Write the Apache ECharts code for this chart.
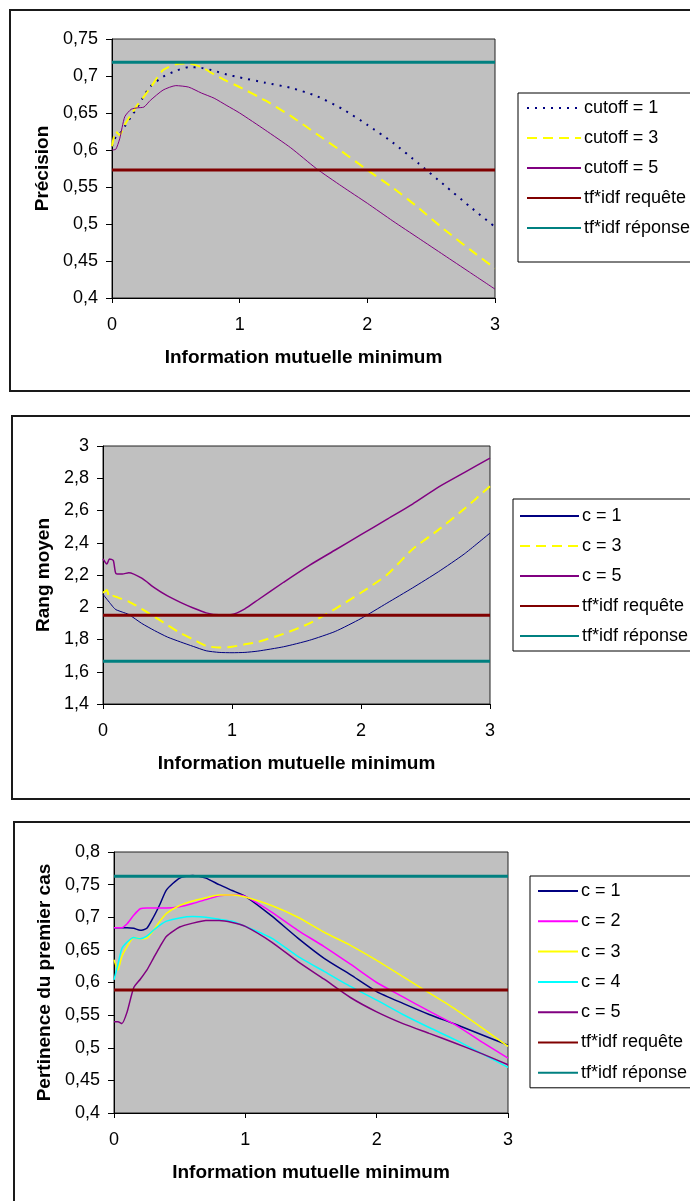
<!DOCTYPE html>
<html>
<head>
<meta charset="utf-8">
<script src="https://cdn.jsdelivr.net/npm/echarts@6/dist/echarts.min.js"></script>
<style>
  html, body { margin: 0; padding: 0; background: #fff; width: 690px; height: 1201px; overflow: hidden; position: relative; }
  .box { position: absolute; border: 2px solid #1a1a1a; box-sizing: border-box; width: 740px; }
  .chart { position: absolute; left: 0; width: 690px; }
</style>
</head>
<body>
<div class="box" style="left:9px;top:9px;height:383px"></div>
<div class="box" style="left:11px;top:415px;height:385px"></div>
<div class="box" style="left:13px;top:821px;height:500px"></div>
<div id="c1" class="chart" style="top:0;height:400px"></div>
<div id="c2" class="chart" style="top:400px;height:400px"></div>
<div id="c3" class="chart" style="top:800px;height:401px"></div>
<script>
// --- chart 1 : Précision
const x1 = [0, 0.03, 0.06, 0.1, 0.15, 0.2, 0.25, 0.3, 0.4, 0.5, 0.6, 0.7, 0.8, 0.9, 1.0, 1.2, 1.4, 1.6, 1.8, 2.0, 2.2, 2.4, 2.6, 2.8, 3.0]
const cutoff1 = [0.605, 0.618, 0.622, 0.632, 0.645, 0.658, 0.673, 0.686, 0.699, 0.707, 0.712, 0.711, 0.707, 0.702, 0.698, 0.691, 0.684, 0.673, 0.656, 0.634, 0.610, 0.582, 0.553, 0.524, 0.496]
const cutoff3 = [0.605, 0.625, 0.620, 0.634, 0.648, 0.661, 0.672, 0.684, 0.708, 0.716, 0.717, 0.712, 0.702, 0.693, 0.685, 0.667, 0.646, 0.622, 0.598, 0.573, 0.549, 0.522, 0.493, 0.466, 0.440]
const cutoff5 = [0.600, 0.601, 0.615, 0.645, 0.655, 0.657, 0.658, 0.667, 0.681, 0.687, 0.685, 0.677, 0.670, 0.660, 0.650, 0.627, 0.603, 0.575, 0.551, 0.528, 0.504, 0.481, 0.458, 0.435, 0.412]
const requete1 = 0.573
const reponse1 = 0.7185

// --- chart 2 : Rang moyen
const x2 = [0, 0.03, 0.05, 0.08, 0.1, 0.15, 0.2, 0.3, 0.4, 0.5, 0.6, 0.7, 0.8, 0.9, 1.0, 1.1, 1.2, 1.4, 1.6, 1.8, 2.0, 2.2, 2.4, 2.6, 2.8, 3.0]
const rangC1 = [2.08, 2.05, 2.03, 2.00, 1.985, 1.97, 1.955, 1.90, 1.855, 1.815, 1.785, 1.757, 1.73, 1.72, 1.718, 1.72, 1.728, 1.755, 1.795, 1.85, 1.93, 2.025, 2.12, 2.22, 2.33, 2.46]
const rangC3 = [2.09, 2.107, 2.06, 2.07, 2.065, 2.05, 2.035, 1.99, 1.94, 1.89, 1.84, 1.80, 1.76, 1.75, 1.755, 1.77, 1.785, 1.835, 1.90, 1.99, 2.09, 2.20, 2.36, 2.48, 2.61, 2.75]
const rangC5 = [2.30, 2.268, 2.30, 2.29, 2.21, 2.206, 2.214, 2.18, 2.12, 2.07, 2.03, 1.995, 1.965, 1.953, 1.955, 1.99, 2.045, 2.155, 2.26, 2.355, 2.45, 2.545, 2.64, 2.745, 2.835, 2.925]
const requete2 = 1.95
const reponse2 = 1.665

// --- chart 3 : Pertinence du premier cas
const x3 = [0, 0.03, 0.06, 0.1, 0.15, 0.2, 0.25, 0.3, 0.35, 0.4, 0.5, 0.6, 0.7, 0.8, 0.9, 1.0, 1.2, 1.4, 1.6, 1.8, 2.0, 2.2, 2.4, 2.6, 2.8, 3.0]
const pertC1 = [0.684, 0.684, 0.684, 0.684, 0.683, 0.680, 0.683, 0.700, 0.720, 0.742, 0.760, 0.764, 0.760, 0.750, 0.741, 0.732, 0.702, 0.668, 0.637, 0.612, 0.586, 0.568, 0.551, 0.536, 0.520, 0.504]
const pertC2 = [0.684, 0.684, 0.684, 0.690, 0.703, 0.713, 0.714, 0.714, 0.714, 0.714, 0.716, 0.721, 0.727, 0.733, 0.734, 0.732, 0.708, 0.680, 0.655, 0.628, 0.600, 0.578, 0.556, 0.535, 0.509, 0.484]
const pertC3 = [0.635, 0.619, 0.640, 0.655, 0.669, 0.667, 0.668, 0.680, 0.694, 0.706, 0.718, 0.725, 0.730, 0.734, 0.734, 0.731, 0.718, 0.700, 0.677, 0.657, 0.634, 0.609, 0.584, 0.559, 0.531, 0.502]
const pertC4 = [0.604, 0.628, 0.652, 0.662, 0.669, 0.667, 0.671, 0.680, 0.688, 0.694, 0.699, 0.701, 0.700, 0.697, 0.694, 0.686, 0.668, 0.640, 0.617, 0.594, 0.573, 0.551, 0.531, 0.512, 0.491, 0.470]
const pertC5 = [0.540, 0.540, 0.537, 0.555, 0.592, 0.605, 0.619, 0.637, 0.655, 0.671, 0.685, 0.691, 0.695, 0.695, 0.692, 0.686, 0.662, 0.632, 0.605, 0.577, 0.555, 0.537, 0.522, 0.507, 0.491, 0.474]
const requete3 = 0.5885
const reponse3 = 0.763

const xTicks = [0, 1, 2, 3]
const FONT = '"Liberation Sans", Arial, sans-serif'

const zip = (xs, ys) => xs.map((x, i) => [x, ys[i]])
const flat = v => [[xTicks[0], v], [xTicks[xTicks.length - 1], v]]
const comma = v => String(Number(v.toFixed(2))).replace('.', ',')

function line(name, data, color, width, type) {
    return {
        name,
        type: 'line',
        data,
        symbol: 'none',
        symbolSize: 0,
        smooth: 0.2,
        lineStyle: { color, width, type: type || 'solid' },
        itemStyle: { color },
        z: 2
    }
}

function buildOption(c) {
    return {
        animation: false,
        textStyle: { fontFamily: FONT },
        grid: {
            left: c.grid[0], top: c.grid[1], width: c.grid[2], height: c.grid[3],
            show: true,
            backgroundColor: '#C0C0C0',
            borderColor: '#222',
            borderWidth: 1
        },
        legend: {
            orient: 'vertical',
            left: c.legend.left,
            top: c.legend.top,
            padding: c.legend.padding,
            itemWidth: c.legend.itemWidth,
            itemHeight: 18,
            itemGap: c.legend.itemGap,
            borderColor: '#000',
            borderWidth: 1,
            backgroundColor: '#fff',
            selectedMode: false,
            // hide the marker dot, keep only the line sample
            itemStyle: { opacity: 0 },
            textStyle: { fontSize: 18, lineHeight: 18, color: '#000', fontFamily: FONT, padding: [0, 0, 0, -2] },
            data: c.series.map(s => s.name)
        },
        xAxis: {
            type: 'value',
            min: 0,
            max: 3,
            interval: 1,
            name: 'Information mutuelle minimum',
            nameLocation: 'middle',
            nameGap: 50,
            nameTextStyle: { fontSize: 19, fontWeight: 'bold', color: '#000', fontFamily: FONT },
            axisLine: { show: true, lineStyle: { color: '#000', width: 1 } },
            axisTick: { show: true, length: 5, lineStyle: { color: '#000' } },
            axisLabel: { fontSize: 18, color: '#000', margin: 18, fontFamily: FONT, formatter: comma },
            splitLine: { show: false }
        },
        yAxis: {
            type: 'value',
            min: c.y[0],
            max: c.y[1],
            interval: c.y[2],
            name: c.yName,
            nameLocation: 'middle',
            nameGap: c.yNameGap,
            nameTextStyle: { fontSize: 19, fontWeight: 'bold', color: '#000', fontFamily: FONT },
            axisLine: { show: true, lineStyle: { color: '#000', width: 1 } },
            axisTick: { show: true, length: 6, lineStyle: { color: '#000' } },
            axisLabel: { fontSize: 18, color: '#000', margin: 14, fontFamily: FONT, formatter: comma, showMinLabel: true, showMaxLabel: true },
            splitLine: { show: false }
        },
        series: c.series
    }
}

const charts = [
    {
        el: 'c1',
        grid: [112, 39, 383, 259],
        y: [0.4, 0.75, 0.05],
        yName: 'Précision',
        yNameGap: 56,
        legend: { left: 518, top: 93, padding: [6, 40, 25, 8], itemWidth: 54, itemGap: 12 },
        series: [
            line('cutoff = 1', zip(x1, cutoff1), '#000080', 2, [2, 6]),
            line('cutoff = 3', zip(x1, cutoff3), '#FFFF00', 2, [10, 6]),
            line('cutoff = 5', zip(x1, cutoff5), '#800080', 1),
            line('tf*idf requête', flat(requete1), '#800000', 3),
            line('tf*idf réponse', flat(reponse1), '#008080', 3)
        ]
    },
    {
        el: 'c2',
        grid: [103, 46, 387, 258],
        y: [1.4, 3, 0.2],
        yName: 'Rang moyen',
        yNameGap: 48,
        legend: { left: 513, top: 99, padding: [8, 40, 6, 6], itemWidth: 59, itemGap: 12 },
        series: [
            line('c = 1', zip(x2, rangC1), '#000080', 1),
            line('c = 3', zip(x2, rangC3), '#FFFF00', 2, [10, 6]),
            line('c = 5', zip(x2, rangC5), '#800080', 1.5),
            line('tf*idf requête', flat(requete2), '#800000', 3),
            line('tf*idf réponse', flat(reponse2), '#008080', 3)
        ]
    },
    {
        el: 'c3',
        grid: [114, 52, 394, 261],
        y: [0.4, 0.8, 0.05],
        yName: 'Pertinence du premier cas',
        yNameGap: 58,
        legend: { left: 530, top: 76, padding: [6, 40, 6, 7], itemWidth: 40, itemGap: 12.3 },
        series: [
            line('c = 1', zip(x3, pertC1), '#000080', 1.5),
            line('c = 2', zip(x3, pertC2), '#FF00FF', 1.5),
            line('c = 3', zip(x3, pertC3), '#FFFF00', 1.5),
            line('c = 4', zip(x3, pertC4), '#00FFFF', 1.5),
            line('c = 5', zip(x3, pertC5), '#800080', 1.5),
            line('tf*idf requête', flat(requete3), '#800000', 3),
            line('tf*idf réponse', flat(reponse3), '#008080', 3)
        ]
    }
]

charts.forEach(c => {
    const chart = echarts.init(document.getElementById(c.el), null, { renderer: 'canvas' })
    chart.setOption(buildOption(c))
})
</script>
</body>
</html>
